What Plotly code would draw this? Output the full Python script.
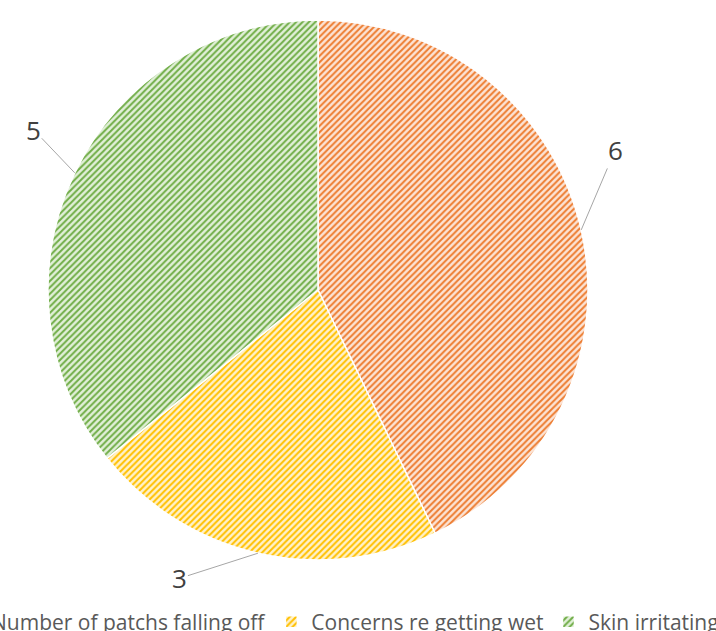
import math
import plotly.graph_objects as go

categories = ["Number of patchs falling off", "Concerns re getting wet", "Skin irritating"]
values = [6, 3, 5]
strong_colors = ["#ED7D31", "#FFC000", "#70AD47"]
light_colors = ["#FCE4D6", "#FFF2CC", "#E2F0D9"]

W, H = 800, 631          # figure is wider than the window so the legend fits on one row
B = 40                   # bottom margin that holds the legend
PH = H - B               # plot-area height
cx, cy, R = 318, 290, 270  # pie centre and radius in pixels

fig = go.Figure(go.Pie(
    labels=categories,
    values=values,
    sort=False,
    direction="clockwise",
    rotation=0,
    textinfo="none",
    hoverinfo="label+value",
    marker=dict(
        colors=light_colors,
        line=dict(color="white", width=1.5),
        pattern=dict(shape="/", fgcolor=strong_colors, bgcolor=light_colors,
                     size=4.5, solidity=0.45, fillmode="replace"),
    ),
    domain=dict(x=[(cx - R) / W, (cx + R) / W],
                y=[1 - (cy + R) / PH, 1 - (cy - R) / PH]),
))

# data labels with leader lines, positioned from each slice's mid angle
offsets = [(34, -80), (-78, 25), (-41, -43)]
total = sum(values)
start = 0.0
for v, (ox, oy) in zip(values, offsets):
    mid = start + v / total * 360 / 2
    start += v / total * 360
    px = cx + R * math.sin(math.radians(mid))
    py = cy - R * math.cos(math.radians(mid))
    fig.add_annotation(
        x=px / W, y=1 - py / PH, xref="paper", yref="paper",
        text=str(v), showarrow=True, arrowhead=0, arrowwidth=1, arrowcolor="#A6A6A6",
        ax=ox, ay=oy, font=dict(size=26, color="#404040", family="Open Sans"),
        borderpad=0, standoff=0, startstandoff=0,
    )

fig.update_layout(
    width=W, height=H,
    margin=dict(l=0, r=0, t=0, b=B, autoexpand=False),
    paper_bgcolor="white",
    plot_bgcolor="white",
    showlegend=True,
    legend=dict(orientation="h", x=-49 / W, xanchor="left",
                y=-(622 - PH) / PH, yanchor="middle",
                font=dict(size=21, color="#595959", family="Open Sans"),
                itemwidth=30, traceorder="normal", bgcolor="rgba(0,0,0,0)"),
)

fig.write_html("out.html",
               post_script="document.body.style.margin='0';document.body.style.overflow='hidden';")
